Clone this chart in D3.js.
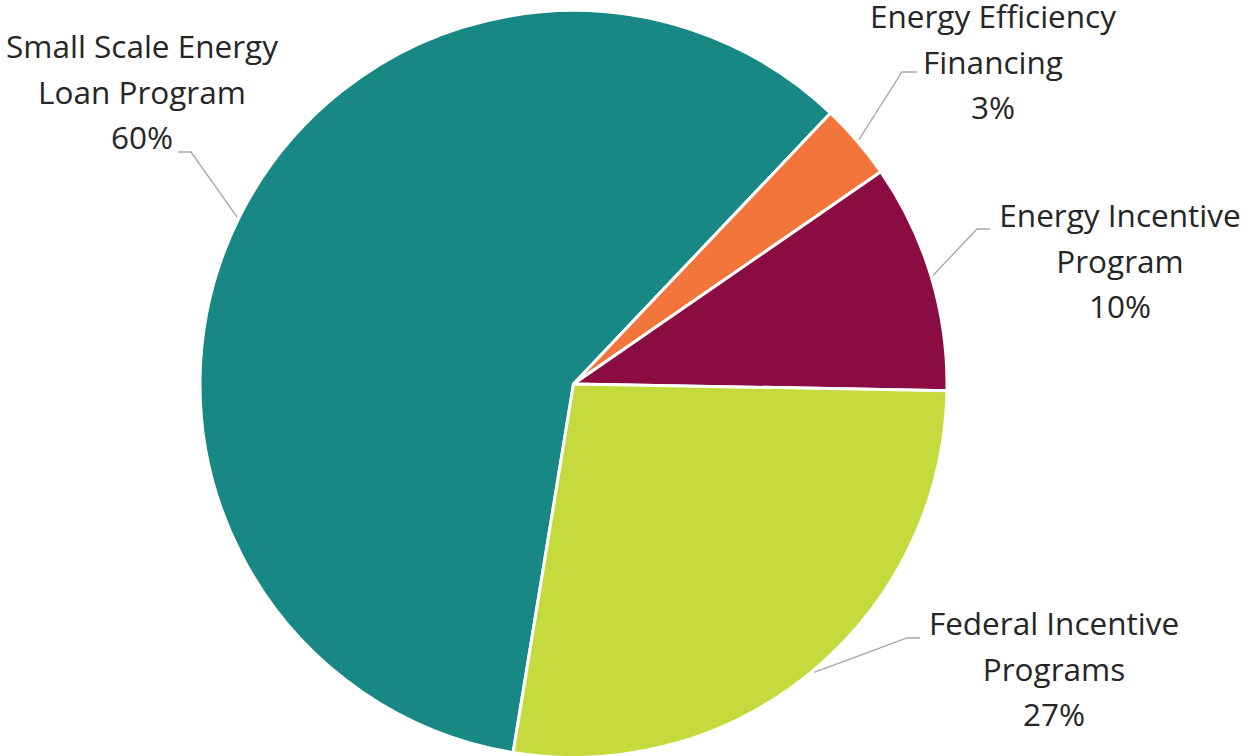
<!DOCTYPE html>
<html>
<head>
<meta charset="utf-8">
<script src="https://cdn.jsdelivr.net/npm/d3@7"></script>
<style>
  html, body { margin: 0; padding: 0; background: #ffffff; }
  svg { display: block; }
  text { font-family: "Open Sans", Lato, "Liberation Sans", sans-serif; }
</style>
</head>
<body>
<svg id="chart" width="1248" height="756"></svg>
<script>
// ---- data ----
const categories = [
  "Small Scale Energy Loan Program",
  "Energy Efficiency Financing",
  "Energy Incentive Program",
  "Federal Incentive Programs"
];
const labelLines = [
  ["Small Scale Energy", "Loan Program"],
  ["Energy Efficiency", "Financing"],
  ["Energy Incentive", "Program"],
  ["Federal Incentive", "Programs"]
];
const values = [59.5, 3.3, 9.9, 27.3];
const colors = ["#188884", "#F2763B", "#8A0C42", "#C5DA3D"];

// ---- layout ----
const W = 1248, H = 756;
const cx = 573.5, cy = 384, R = 373.5;
const startDeg = 189.3;
const fontSize = 31.5, lineGap = 45.5;
// label block: center x, first baseline y, elbow point, side of the horizontal stub
const labelLayout = [
  { x: 142, y: 58,  elbowX: 191, elbowY: 152, endX: 178 },
  { x: 993, y: 28,  elbowX: 902, elbowY: 72,  endX: 917 },
  { x: 1120, y: 227, elbowX: 977, elbowY: 229, endX: 990 },
  { x: 1054, y: 635, elbowX: 907, elbowY: 638, endX: 920 }
];

const svg = d3.select("#chart");
const g = svg.append("g").attr("transform", `translate(${cx},${cy})`);

const rad = d => d * Math.PI / 180;
const pie = d3.pie().sort(null).value(d => d)
  .startAngle(rad(startDeg)).endAngle(rad(startDeg + 360));
const arcs = pie(values);
const total = d3.sum(values);
const pct = d3.format(".0%");

const arc = d3.arc().innerRadius(0).outerRadius(R);
const edgeArc = d3.arc().innerRadius(R + 2).outerRadius(R + 2);

g.selectAll("path.slice")
  .data(arcs)
  .join("path")
  .attr("class", "slice")
  .attr("d", arc)
  .attr("fill", (d, i) => colors[i])
  .attr("stroke", "#ffffff")
  .attr("stroke-width", 3)
  .attr("stroke-linejoin", "round");

// leader lines
const lines = svg.append("g");
arcs.forEach((d, i) => {
  const L = labelLayout[i];
  const p = edgeArc.centroid(d);
  const px = cx + p[0], py = cy + p[1];
  lines.append("polyline")
    .attr("points", `${px},${py} ${L.elbowX},${L.elbowY} ${L.endX},${L.elbowY}`)
    .attr("fill", "none")
    .attr("stroke", "#A6A6A6")
    .attr("stroke-width", 1.3);
});

// labels
const labels = svg.append("g");
arcs.forEach((d, i) => {
  const L = labelLayout[i];
  const t = labels.append("text")
    .attr("text-anchor", "middle")
    .attr("font-size", fontSize)
    .attr("fill", "#262626");
  const all = labelLines[i].concat([pct(values[i] / total)]);
  all.forEach((s, k) => {
    t.append("tspan").attr("x", L.x).attr("y", L.y + k * lineGap).text(s);
  });
});
</script>
</body>
</html>
